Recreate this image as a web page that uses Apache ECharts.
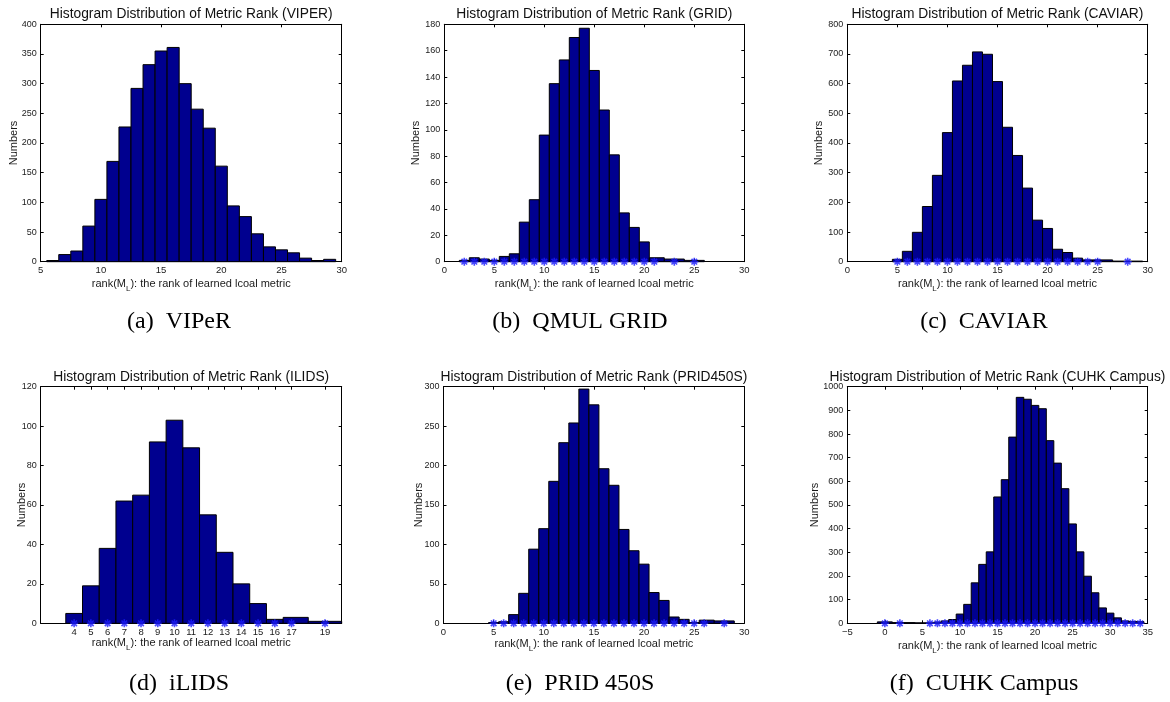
<!DOCTYPE html>
<html><head><meta charset="utf-8">
<script src="https://cdn.jsdelivr.net/npm/echarts@6/dist/echarts.min.js"></script>
<style>html,body{margin:0;padding:0;background:#fff}#c{width:1170px;height:702px}</style>
</head><body><div id="c"></div>
<script>
// ---- data (bin centers and counts) ----
const viperCenters = [6,7,8,9,10,11,12,13,14,15,16,17,18,19,20,21,22,23,24,25,26,27,28,29];
const viperCounts  = [2,12,18,60,105,169,227,292,332,355,361,300,257,225,161,94,76,47,25,20,15,6,2,4];

const qmulCenters = [2,3,4,5,6,7,8,9,10,11,12,13,14,15,16,17,18,19,20,21,23,25];
const qmulCounts  = [1,3,2,1,4,6,30,47,96,135,153,170,177,145,115,81,37,26,15,3,2,1];

const caviarCenters = [5,6,7,8,9,10,11,12,13,14,15,16,17,18,19,20,21,22,23,24,25,28];
const caviarCounts  = [8,35,99,186,291,435,609,662,707,699,607,453,358,248,140,112,42,31,12,6,6,2];

const ilidsCenters = [4,5,6,7,8,9,10,11,12,13,14,15,16,17,19];
const ilidsCounts  = [5,19,38,62,65,92,103,89,55,36,20,10,2,3,1];
const ilidsTicks   = [4,5,6,7,8,9,10,11,12,13,14,15,16,17,19];

const pridCenters = [5,6,7,8,9,10,11,12,13,14,15,16,17,18,19,20,21,22,23,24,25,26,28];
const pridCounts  = [1,2,11,38,94,120,180,229,254,297,277,196,175,119,92,75,39,29,8,5,1,4,3];

const cuhkCenters = [0,2,6,7,8,9,10,11,12,13,14,15,16,17,18,19,20,21,22,23,24,25,26,27,28,29,30,31,32,33,34];
const cuhkCounts  = [6,3,2,5,10,16,39,80,171,249,302,534,607,787,955,947,921,907,772,677,569,420,302,199,129,65,43,23,10,8,7];

const titles = ['Histogram Distribution of Metric Rank (VIPER)','Histogram Distribution of Metric Rank (GRID)',
  'Histogram Distribution of Metric Rank (CAVIAR)','Histogram Distribution of Metric Rank (ILIDS)',
  'Histogram Distribution of Metric Rank (PRID450S)','Histogram Distribution of Metric Rank (CUHK Campus)'];
const captions = ['(a)  VIPeR','(b)  QMUL GRID','(c)  CAVIAR','(d)  iLIDS','(e)  PRID 450S','(f)  CUHK Campus'];
const xLabel = 'rank(M{sub|L}): the rank of learned lcoal metric';
const yLabel = 'Numbers';

// ---- layout ----
const SANS = 'Liberation Sans, Arial, Helvetica, sans-serif';
const SERIF = 'Liberation Serif, Times New Roman, serif';
const panels = [
  {c: viperCenters, v: viperCounts, markers:false, left:40.7, top:24.3, w:301, h:237.4, xmin:5, xmax:30, xint:5, ymax:400, yint:50, ygap:21.5, xgap:14, cap:179},
  {c: qmulCenters, v: qmulCounts, markers:true, left:444.3, top:24.3, w:300, h:237.4, xmin:0, xmax:30, xint:5, ymax:180, yint:20, ygap:23, xgap:14, cap:580},
  {c: caviarCenters, v: caviarCounts, markers:true, left:847.3, top:24.3, w:300.4, h:237.4, xmin:0, xmax:30, xint:5, ymax:800, yint:100, ygap:23, xgap:14, cap:984},
  {c: ilidsCenters, v: ilidsCounts, markers:true, ticks: ilidsTicks, left:40.7, top:386.7, w:301, h:236.6, xmin:2, xmax:20, xint:1, ymax:120, yint:20, ygap:13.5, xgap:11, cap:179},
  {c: pridCenters, v: pridCounts, markers:true, left:443.5, top:386.7, w:300.8, h:236.6, xmin:0, xmax:30, xint:5, ymax:300, yint:50, ygap:19, xgap:12.5, cap:580},
  {c: cuhkCenters, v: cuhkCounts, markers:true, left:847.3, top:386.7, w:300.4, h:236.6, xmin:-5, xmax:35, xint:5, ymax:1000, yint:100, ygap:27, xgap:14, cap:984}
];

function binData(centers, counts) {
  return centers.map((c, i) => {
    const lo = i === 0 ? c - ((centers[1] - c) / 2) : (centers[i - 1] + c) / 2;
    const hi = i === centers.length - 1 ? c + (c - centers[i - 1]) / 2 : (c + centers[i + 1]) / 2;
    return [c, counts[i], lo, hi];
  });
}

function renderBar(params, api) {
  const p0 = api.coord([api.value(2), api.value(1)]);
  const p1 = api.coord([api.value(3), 0]);
  return {
    type: 'rect',
    shape: {x: p0[0], y: p0[1], width: p1[0] - p0[0], height: p1[1] - p0[1]},
    style: {fill: '#00008f', stroke: '#000', lineWidth: 1}
  };
}

const STAR = 'path://M5,0L5,10M0,5L10,5M1.5,1.5L8.5,8.5M1.5,8.5L8.5,1.5';
const tickStyle = {show: true, inside: true, length: 3, lineStyle: {color: '#000', width: 1}};
const lineStyle = {show: true, onZero: false, lineStyle: {color: '#000', width: 1}};
const fmt = v => v < 0 ? '\u2212' + Math.abs(v) : String(v);

const option = {animation: false, backgroundColor: '#fff', grid: [], xAxis: [], yAxis: [], series: [], graphic: []};

panels.forEach((p, i) => {
  option.grid.push({left: p.left, top: p.top, width: p.w, height: p.h, show: false});
  const xTick = Object.assign({}, tickStyle);
  const xLab = {fontSize: 9.5, color: '#1a1a1a', fontFamily: SANS, margin: 4, formatter: fmt};
  if (p.ticks) { xTick.customValues = p.ticks; xLab.customValues = p.ticks; }
  option.xAxis.push({
    gridIndex: i, type: 'value', min: p.xmin, max: p.xmax, interval: p.xint, position: 'bottom',
    axisLine: lineStyle, axisTick: xTick, axisLabel: xLab, splitLine: {show: false},
    name: xLabel, nameLocation: 'middle', nameGap: p.xgap, nameMoveOverlap: false,
    nameTextStyle: {fontSize: 11, color: '#1a1a1a', fontFamily: SANS,
      rich: {sub: {fontSize: 8, color: '#1a1a1a', fontFamily: SANS, verticalAlign: 'top', padding: [9, 0, 0, 0]}}}
  });
  option.xAxis.push({
    gridIndex: i, type: 'value', min: p.xmin, max: p.xmax, interval: p.xint, position: 'top',
    axisLine: lineStyle, axisTick: Object.assign({}, xTick), axisLabel: {show: false}, splitLine: {show: false}
  });
  option.yAxis.push({
    gridIndex: i, type: 'value', min: 0, max: p.ymax, interval: p.yint, position: 'left',
    axisLine: lineStyle, axisTick: tickStyle, splitLine: {show: false},
    axisLabel: {fontSize: 9, color: '#1a1a1a', fontFamily: SANS, margin: 4, formatter: fmt},
    name: yLabel, nameLocation: 'middle', nameGap: p.ygap, nameMoveOverlap: false,
    nameTextStyle: {fontSize: 11, color: '#1a1a1a', fontFamily: SANS}
  });
  option.yAxis.push({
    gridIndex: i, type: 'value', min: 0, max: p.ymax, interval: p.yint, position: 'right',
    axisLine: lineStyle, axisTick: tickStyle, axisLabel: {show: false}, splitLine: {show: false}
  });
  option.series.push({
    type: 'custom', xAxisIndex: 2 * i, yAxisIndex: 2 * i, renderItem: renderBar,
    data: binData(p.c, p.v), z: 2
  });
  if (p.markers) {
    option.series.push({
      type: 'scatter', xAxisIndex: 2 * i, yAxisIndex: 2 * i, clip: false, z: 5,
      symbol: STAR, symbolSize: 8,
      itemStyle: {color: '#1a1aff', borderColor: '#1a1aff', borderWidth: 1.6},
      data: p.c.map(c => [c, 0])
    });
  }
  option.graphic.push({
    type: 'text', x: p.left + p.w / 2, y: p.top - 10,
    style: {text: titles[i], fontSize: 13.8, fontFamily: SANS, fill: '#111', align: 'center', verticalAlign: 'middle'}
  });
  option.graphic.push({
    type: 'text', x: p.cap, y: p.top + p.h + 60.5,
    style: {text: captions[i], fontSize: 24, fontFamily: SERIF, fill: '#000', align: 'center', verticalAlign: 'middle'}
  });
});

const chart = echarts.init(document.getElementById('c'), null, {renderer: 'canvas'});
chart.setOption(option);
</script>
</body></html>
